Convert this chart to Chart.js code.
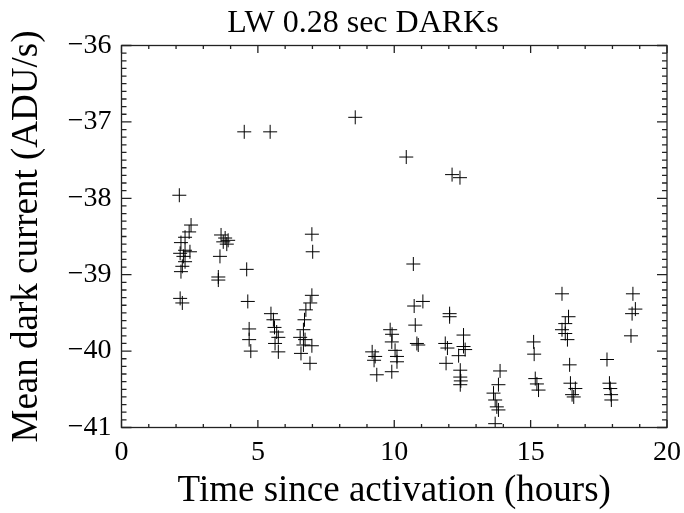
<!DOCTYPE html>
<html>
<head>
<meta charset="utf-8">
<script src="https://cdn.jsdelivr.net/npm/chart.js@4/dist/chart.umd.min.js"></script>
<style>
  body { margin: 0; background: #fff; }
</style>
</head>
<body>
<canvas id="grafico" width="684" height="513"></canvas>
<script>
// Dados (horas desde a ativação, corrente escura média)
const tempoHoras = [
  2.12, 2.55, 2.48, 2.33, 2.18, 2.33, 2.51, 2.15, 2.27, 2.33, 2.23, 2.18, 2.15, 2.23,
  3.65, 3.73, 3.86, 3.80, 3.91, 3.61, 3.55, 3.55,
  4.50, 4.59, 4.63, 4.68, 4.68, 4.74,
  5.45, 5.48, 5.57, 5.61, 5.69, 5.75, 5.63, 5.75,
  6.98, 7.01, 6.98, 6.92, 6.76, 6.71, 6.67, 6.55, 6.73, 6.67, 6.98, 6.58, 6.91,
  8.57,
  9.19, 9.30, 9.26, 9.36,
  9.85, 9.92, 9.91, 10.03, 10.10, 10.10, 9.91,
  10.44, 10.70, 11.05, 10.73, 10.77, 10.83, 10.88,
  12.12, 12.41, 12.03, 12.03, 11.87, 11.95, 11.90,
  12.54, 12.54, 12.60, 12.36, 12.42, 12.42, 12.44, 12.42,
  13.88, 13.82, 13.64, 13.70, 13.76, 13.82, 13.70,
  15.11, 15.13, 15.17, 15.23, 15.29,
  16.15, 16.39, 16.27, 16.15, 16.27, 16.35, 16.43, 16.46, 16.64, 16.52, 16.58,
  17.80, 17.89, 17.92, 17.95, 17.96,
  18.75, 18.84, 18.72, 18.68
];
const correnteMedia = [
  -37.96, -38.35, -38.44, -38.51, -38.58, -38.68, -38.70, -38.72, -38.76, -38.83, -38.89, -38.96, -39.31, -39.37,
  -38.48, -38.57, -38.60, -38.52, -38.55, -38.76, -39.03, -39.07,
  -37.13, -38.93, -39.35, -39.71, -39.85, -40.00,
  -37.13, -39.51, -39.59, -39.69, -39.75, -39.82, -39.90, -40.01,
  -38.47, -38.70, -39.27, -39.37, -39.46, -39.59, -39.72, -39.82, -39.85, -39.92, -39.93, -40.03, -40.16,
  -36.94,
  -40.01, -40.07, -40.12, -40.31,
  -39.72, -39.78, -39.88, -39.99, -40.07, -40.14, -40.27,
  -37.46, -38.86, -39.35, -39.41, -39.66, -39.90, -39.92,
  -37.69, -37.73, -39.51, -39.55, -39.90, -39.96, -40.16,
  -39.79, -39.94, -39.98, -40.06, -40.25, -40.34, -40.39, -40.44,
  -40.26, -40.44, -40.55, -40.64, -40.73, -40.77, -40.95,
  -39.88, -40.04, -40.36, -40.43, -40.51,
  -39.25, -39.55, -39.64, -39.72, -39.77, -39.85, -40.18, -40.42, -40.49, -40.57, -40.60,
  -40.11, -40.42, -40.49, -40.57, -40.64,
  -39.25, -39.45, -39.51, -39.80
];

// Rótulos dos eixos e título
const rotulosX = ['0', '5', '10', '15', '20'];
const rotulosY = ['\u221241', '\u221240', '\u221239', '\u221238', '\u221237', '\u221236'];
const tituloGrafico = 'LW 0.28 sec DARKs';

const fonte = 'Liberation Serif, Times New Roman, serif';

// Moldura com marcas internas nos quatro lados (estilo IDL) + título
const moldura = {
  id: 'moldura',
  afterDraw(chart) {
    const { ctx, chartArea: a, scales: { x, y } } = chart;
    ctx.save();
    ctx.strokeStyle = '#222';
    ctx.lineWidth = 1.3;
    ctx.strokeRect(a.left, a.top, a.right - a.left, a.bottom - a.top);
    ctx.beginPath();
    for (let v = 0; v <= 20; v += 1) {
      const px = x.getPixelForValue(v);
      const len = v % 5 === 0 ? 7.5 : 3.5;
      ctx.moveTo(px, a.bottom); ctx.lineTo(px, a.bottom - len);
      ctx.moveTo(px, a.top); ctx.lineTo(px, a.top + len);
    }
    for (let i = 0; i <= 50; i++) {
      const v = -41 + i / 10;
      const py = y.getPixelForValue(v);
      const len = i % 10 === 0 ? 10 : 5;
      ctx.moveTo(a.left, py); ctx.lineTo(a.left + len, py);
      ctx.moveTo(a.right, py); ctx.lineTo(a.right - len, py);
    }
    ctx.stroke();

    // título
    ctx.fillStyle = '#000';
    ctx.font = '32px ' + fonte;
    ctx.textAlign = 'center';
    ctx.textBaseline = 'alphabetic';
    ctx.fillText(tituloGrafico, 363, 32);
    ctx.restore();
  }
};

const pontos = tempoHoras.map((t, i) => ({ x: t, y: correnteMedia[i] }));

new Chart(document.getElementById('grafico').getContext('2d'), {
  type: 'scatter',
  data: {
    datasets: [{
      data: pontos,
      pointStyle: 'cross',
      pointRadius: 7,
      borderColor: '#000',
      backgroundColor: '#000',
      borderWidth: 1,
    }]
  },
  options: {
    responsive: false,
    animation: false,
    layout: { padding: { left: 0, right: 17, top: 45.5, bottom: 0 } },
    plugins: {
      legend: { display: false },
      tooltip: { enabled: false },
    },
    scales: {
      x: {
        type: 'linear',
        min: 0,
        max: 20,
        grid: { display: false, drawTicks: false },
        border: { display: false },
        ticks: {
          stepSize: 5,
          color: '#000',
          padding: 8,
          maxRotation: 0,
          font: { family: fonte, size: 28 },
          callback: (v) => rotulosX[v / 5],
        },
        title: {
          display: true,
          text: 'Time since activation (hours)',
          color: '#000',
          font: { family: fonte, size: 37 },
          padding: { top: 0, bottom: 0 },
        },
        afterFit: (s) => {
          s.height = 85.5;
          s.paddingLeft = 0;
          s.paddingRight = 0;
        },
      },
      y: {
        type: 'linear',
        min: -41,
        max: -36,
        grid: { display: false, drawTicks: false },
        border: { display: false },
        ticks: {
          stepSize: 1,
          color: '#000',
          padding: 10,
          font: { family: fonte, size: 28 },
          callback: (v) => rotulosY[v + 41],
        },
        title: {
          display: true,
          text: 'Mean dark current (ADU/s)',
          color: '#000',
          font: { family: fonte, size: 37 },
          padding: { top: 5, bottom: 0 },
        },
        afterFit: (s) => {
          s.width = 121.5;
          s.paddingTop = 0;
          s.paddingBottom = 0;
        },
      },
    },
  },
  plugins: [moldura],
});
</script>
</body>
</html>
